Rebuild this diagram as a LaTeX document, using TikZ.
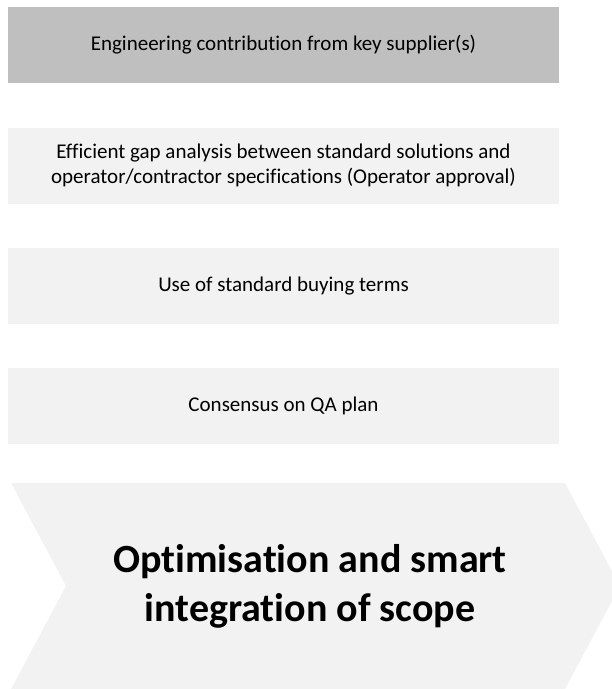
\documentclass[tikz,border=0pt]{standalone}
\usepackage{fontspec}
\setmainfont{Carlito}[Ligatures=NoCommon]
\definecolor{keygrey}{HTML}{BFBFBF}
\definecolor{palegrey}{HTML}{F2F2F2}
\begin{document}
\begin{tikzpicture}[x=1pt, y=1pt,
                    box/.style = {fill=palegrey, minimum width=551pt, minimum height=76pt, inner sep=0pt, align=center, font=\fontsize{21}{25.6}\selectfont},
                    keybox/.style = {box, fill=keygrey}]
                    \useasboundingbox (0,0) rectangle (612,-689);
                    \clip (0,0) rectangle (612,-689);

                    \node [keybox] (supplier) at (283.5,-45) {Engineering contribution from key supplier(s)};
                    \node [box] (gap) at (283.5,-165.5) {Efficient gap analysis between standard solutions and\\operator/contractor specifications (Operator approval)};
                    \node [box] (terms) at (283.5,-286) {Use of standard buying terms};
                    \node [box] (qa) at (283.5,-406) {Consensus on QA plan};

                    % chevron
                    \fill [palegrey] (11,-483) -- (565,-483) -- (620,-586) -- (565,-689) -- (11,-689) -- (66,-586) -- cycle;
                    \node [align=center, font=\fontsize{40}{49}\selectfont\bfseries] (scope) at (310,-586) {Optimisation and smart\\integration of scope};
                \end{tikzpicture}
\end{document}
